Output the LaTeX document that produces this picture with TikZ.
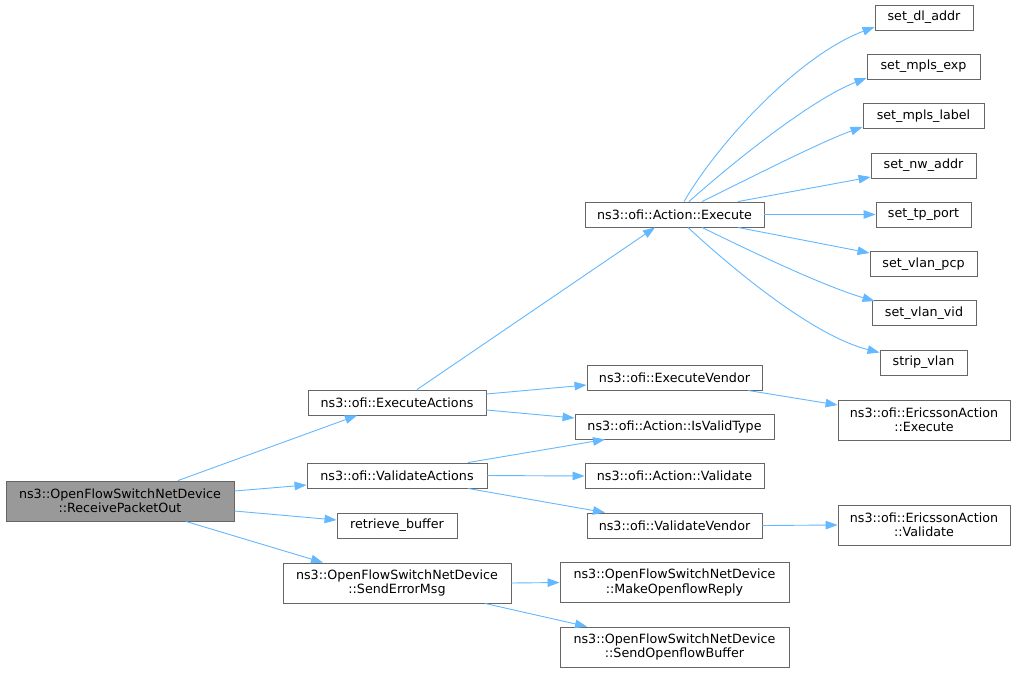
\documentclass[tikz,border=0pt]{standalone}
\usepackage{fontspec}
\setmainfont{DejaVu Sans}
\usetikzlibrary{arrows.meta,calc}
\definecolor{edgeblue}{HTML}{63B8FF}
\definecolor{boxline}{HTML}{666666}
\definecolor{rootfill}{HTML}{999999}
\begin{document}
\begin{tikzpicture}[x=1pt,y=-1pt,
  box/.style={draw=boxline,fill=white,line width=0.9pt,inner sep=0pt,align=center,
    font=\fontsize{12.7}{14.5}\selectfont,minimum height=25pt},
  tall/.style={minimum height=40pt},
  root/.style={fill=rootfill},
  call/.style={draw=edgeblue,line width=0.9pt,-{Triangle[length=12pt,width=8.5pt]}}]
\fill[white] (0,0) rectangle (1016,672);
\useasboundingbox (0,0) rectangle (1016,672);

\node[box,tall,root,minimum width=228pt] (rpo) at (120,501) {ns3::OpenFlowSwitchNetDevice\\::ReceivePacketOut};
\node[box,minimum width=178pt] (ea) at (397,402.5) {ns3::ofi::ExecuteActions};
\node[box,minimum width=180pt] (va) at (397,475.5) {ns3::ofi::ValidateActions};
\node[box,minimum width=120pt] (rb) at (397,525.5) {retrieve\_buffer};
\node[box,tall,minimum width=228pt] (sem) at (397,583) {ns3::OpenFlowSwitchNetDevice\\::SendErrorMsg};

\node[box,minimum width=179pt] (aexe) at (674.5,214.5) {ns3::ofi::Action::Execute};
\node[box,minimum width=175pt] (ev) at (674.5,377.5) {ns3::ofi::ExecuteVendor};
\node[box,minimum width=199pt] (ivt) at (674.5,426.5) {ns3::ofi::Action::IsValidType};
\node[box,minimum width=179pt] (av) at (674.5,476) {ns3::ofi::Action::Validate};
\node[box,minimum width=175pt] (vv) at (674.5,525.5) {ns3::ofi::ValidateVendor};
\node[box,tall,minimum width=229pt] (mor) at (674.5,582.5) {ns3::OpenFlowSwitchNetDevice\\::MakeOpenflowReply};
\node[box,tall,minimum width=229pt] (sob) at (674.5,647) {ns3::OpenFlowSwitchNetDevice\\::SendOpenflowBuffer};

\node[box,tall,minimum width=172pt] (eae) at (924,420) {ns3::ofi::EricssonAction\\::Execute};
\node[box,tall,minimum width=172pt] (eav) at (924,525) {ns3::ofi::EricssonAction\\::Validate};

\node[box,minimum width=98pt] (sdl) at (924,17.5) {set\_dl\_addr};
\node[box,minimum width=113pt] (sme) at (923.5,66.5) {set\_mpls\_exp};
\node[box,minimum width=121pt] (sml) at (923.5,116) {set\_mpls\_label};
\node[box,minimum width=105pt] (snw) at (923.5,165.5) {set\_nw\_addr};
\node[box,minimum width=95pt] (stp) at (923.5,214.5) {set\_tp\_port};
\node[box,minimum width=107pt] (svp) at (923.5,264) {set\_vlan\_pcp};
\node[box,minimum width=104pt] (svv) at (924,313) {set\_vlan\_vid};
\node[box,minimum width=87pt] (sv) at (923.5,362.5) {strip\_vlan};

% edges from root
\draw[call] ([xshift=58pt]rpo.north) -- ([xshift=-40pt]ea.south);
\draw[call] ([yshift=10pt]rpo.east) -- ([yshift=-9.5pt]va.west);
\draw[call] ([yshift=-10pt]rpo.east) -- ([yshift=5.5pt]rb.west);
\draw[call] ([xshift=66pt]rpo.south) -- ([xshift=-74pt]sem.north);

% second level
\draw[call] ([xshift=20pt]ea.north) -- ([xshift=-19.5pt]aexe.south);
\draw[call] ([yshift=8.5pt]ea.east) -- ([yshift=-7.5pt]ev.west);
\draw[call] ([yshift=-7.5pt]ea.east) -- ([yshift=8.5pt]ivt.west);
\draw[call] ([xshift=71pt]va.north) -- ([xshift=-69.5pt]ivt.south);
\draw[call] (va.east) -- (av.west);
\draw[call] ([xshift=71pt]va.south) -- ([xshift=-69.5pt]vv.north);
\draw[call] (sem.east) -- (mor.west);
\draw[call] ([xshift=88pt]sem.south) -- ([xshift=-87.5pt]sob.north);

% third level
\draw[call] ([xshift=73.5pt]ev.south) -- ([yshift=15pt]eae.west);
\draw[call] (vv.east) -- (eav.west);

% Action::Execute fan-out
\draw[call] ([xshift=9.5pt]aexe.north) .. controls (720,140) and (800,55) .. ([yshift=-9.5pt]sdl.west);
\draw[call] ([xshift=14.5pt]aexe.north) .. controls (730,165) and (810,100) .. ([yshift=-11.5pt]sme.west);
\draw[call] ([xshift=27.5pt]aexe.north) .. controls (740,183) and (820,142) .. ([yshift=-11pt]sml.west);
\draw[call] ([xshift=63.5pt]aexe.north) -- ([yshift=-11.5pt]snw.west);
\draw[call] (aexe.east) -- (stp.west);
\draw[call] ([xshift=63.5pt]aexe.south) -- ([yshift=11pt]svp.west);
\draw[call] ([xshift=27.5pt]aexe.south) .. controls (740,246) and (820,285) .. ([xshift=3pt,yshift=-1pt]svv.north west);
\draw[call] ([xshift=13.5pt]aexe.south) .. controls (725,262) and (810,335) .. ([yshift=-3pt]sv.north west);
\end{tikzpicture}
\end{document}
